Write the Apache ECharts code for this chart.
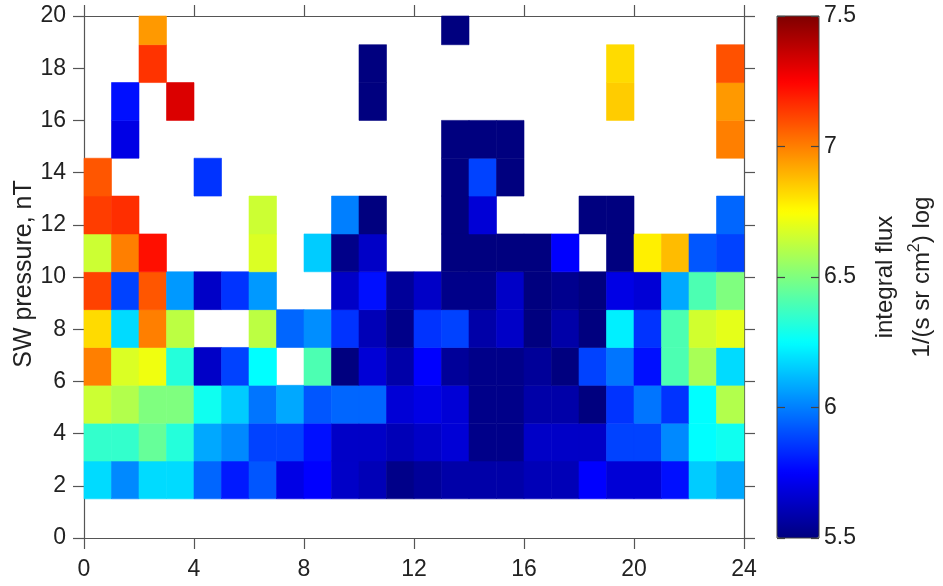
<!DOCTYPE html>
<html>
<head>
<meta charset="utf-8">
<script src="https://cdn.jsdelivr.net/npm/echarts@6/dist/echarts.min.js"></script>
<style>
html,body{margin:0;padding:0;background:#fff;}
#chart{width:943px;height:586px;}
</style>
</head>
<body>
<div id="chart"></div>
<script>
// MLT bins (hours): lower and upper edges
const mltLow  = [0,1,2,3,4,5,6,7,8,9,10,11,12,13,14,15,16,17,18,19,20,21,22,23];
const mltHigh = [1,2,3,4,5,6,7,8,9,10,11,12,13,14,15,16,17,18,19,20,21,22,23,24];
// SW pressure bins (nT): lower and upper edges
const presLow  = [1.5, 2.95, 4.4, 5.85, 7.3, 8.75, 10.2, 11.65, 13.1, 14.55, 16.0, 17.45, 18.9];
const presHigh = [2.95, 4.4, 5.85, 7.3, 8.75, 10.2, 11.65, 13.1, 14.55, 16.0, 17.45, 18.9, 20.35];

// log integral flux per pressure bin (one value per MLT hour), null = no data
const flux00 = [6.18,6.02,6.18,6.18,5.95,5.80,5.92,5.70,5.75,5.64,5.61,5.52,5.55,5.58,5.58,5.58,5.61,5.61,5.75,5.67,5.67,5.78,6.15,6.08];
const flux01 = [6.35,6.35,6.45,6.32,6.08,6.02,5.88,5.88,5.78,5.64,5.64,5.61,5.64,5.67,5.52,5.52,5.64,5.64,5.64,5.88,5.88,6.02,6.25,6.28];
const flux02 = [6.65,6.60,6.50,6.50,6.28,6.15,5.98,6.08,5.92,5.95,5.95,5.67,5.70,5.67,5.52,5.52,5.58,5.58,5.50,5.85,5.98,5.85,6.25,6.60];
const flux03 = [7.00,6.68,6.72,6.32,5.64,5.88,6.25,null,6.40,5.50,5.67,5.58,5.75,5.55,5.52,5.52,5.55,5.50,5.88,5.98,5.78,6.40,6.58,6.18];
const flux04 = [6.82,6.18,7.00,6.62,null,null,6.62,5.95,6.03,5.85,5.61,5.52,5.85,5.88,5.58,5.64,5.50,5.58,5.50,6.22,5.85,6.40,6.66,6.70];
const flux05 = [7.12,5.88,7.08,6.05,5.64,5.85,6.05,null,null,5.64,5.78,5.55,5.64,5.52,5.52,5.64,5.50,5.53,5.50,5.70,5.67,6.08,6.40,6.50];
const flux06 = [6.65,7.00,7.22,null,null,null,6.68,null,6.15,5.52,5.64,null,null,5.50,5.50,5.50,5.50,5.75,null,5.50,6.78,6.88,5.92,5.88];
const flux07 = [7.13,7.16,null,null,null,null,6.65,null,null,6.00,5.50,null,null,5.50,5.67,null,null,null,5.50,5.50,null,null,null,5.95];
const flux08 = [7.08,null,null,null,5.85,null,null,null,null,null,null,null,null,5.50,5.88,5.50,null,null,null,null,null,null,null,null];
const flux09 = [null,5.70,null,null,null,null,null,null,null,null,null,null,null,5.50,5.50,5.50,null,null,null,null,null,null,null,7.00];
const flux10 = [null,5.78,null,7.32,null,null,null,null,null,null,5.50,null,null,null,null,null,null,null,null,6.85,null,null,null,6.95];
const flux11 = [null,null,7.15,null,null,null,null,null,null,null,5.50,null,null,null,null,null,null,null,null,6.82,null,null,null,7.09];
const flux12 = [null,null,6.95,null,null,null,null,null,null,null,null,null,null,5.50,null,null,null,null,null,null,null,null,null,null];
const fluxRows = [flux00,flux01,flux02,flux03,flux04,flux05,flux06,flux07,flux08,flux09,flux10,flux11,flux12];

const cbarTicks = [5.5,6,6.5,7,7.5];

const jet = ['#00007F','#0000FF','#007FFF','#00FFFF','#7FFF7F','#FFFF00','#FF7F00','#FF0000','#7F0000'];

const cells = [];
fluxRows.forEach((row, r) => {
  row.forEach((v, c) => {
    if (v !== null) cells.push([mltLow[c], mltHigh[c], presLow[r], presHigh[r], v]);
  });
});

const FONT = "'Liberation Sans', Arial, sans-serif";
const AX = '#555';
const TX = '#222';

const chart = echarts.init(document.getElementById('chart'), null, {renderer: 'canvas'});

const mainX = {min: 0, max: 24, interval: 4};
const mainY = {min: 0, max: 20, interval: 2};

chart.setOption({
  backgroundColor: '#fff',
  animation: false,
  grid: [
    {left: 84, top: 16, width: 660, height: 522, show: false},
    {left: 777, top: 16, width: 42, height: 522, show: true, z: 10,
     backgroundColor: 'transparent', borderColor: '#444', borderWidth: 1}
  ],
  xAxis: [
    Object.assign({type: 'value', gridIndex: 0, position: 'bottom',
      axisLine: {show: true, onZero: false, lineStyle: {color: AX, width: 1.2}},
      axisTick: {show: true, inside: false, length: 11, lineStyle: {color: AX, width: 1.2}},
      axisLabel: {show: true, fontSize: 23, fontFamily: FONT, color: TX, margin: 20},
      splitLine: {show: false}}, mainX),
    Object.assign({type: 'value', gridIndex: 0, position: 'top',
      axisLine: {show: true, onZero: false, lineStyle: {color: AX, width: 1.2}},
      axisTick: {show: true, inside: false, length: 11, lineStyle: {color: AX, width: 1.2}},
      axisLabel: {show: false}, splitLine: {show: false}}, mainX),
    {type: 'value', gridIndex: 1, min: 0, max: 1, show: false, axisLine: {onZero: false}}
  ],
  yAxis: [
    Object.assign({type: 'value', gridIndex: 0, position: 'left',
      axisLine: {show: true, onZero: false, lineStyle: {color: AX, width: 1.2}},
      axisTick: {show: true, inside: false, length: 11, lineStyle: {color: AX, width: 1.2}},
      axisLabel: {show: true, fontSize: 23, fontFamily: FONT, color: TX, margin: 18},
      splitLine: {show: false}}, mainY),
    Object.assign({type: 'value', gridIndex: 0, position: 'right',
      axisLine: {show: true, onZero: false, lineStyle: {color: AX, width: 1.2}},
      axisTick: {show: true, inside: false, length: 11, lineStyle: {color: AX, width: 1.2}},
      axisLabel: {show: false}, splitLine: {show: false}}, mainY),
    {type: 'value', gridIndex: 1, position: 'right', z: 12,
      min: cbarTicks[0], max: cbarTicks[cbarTicks.length-1], interval: 0.5,
      axisLine: {show: false, onZero: false},
      axisTick: {show: true, inside: true, length: 8, lineStyle: {color: '#444', width: 1.2}},
      axisLabel: {show: true, fontSize: 23, fontFamily: FONT, color: TX, margin: 5},
      splitLine: {show: false}},
    {type: 'value', gridIndex: 1, position: 'left', z: 12,
      min: cbarTicks[0], max: cbarTicks[cbarTicks.length-1], interval: 0.5,
      axisLine: {show: false, onZero: false},
      axisTick: {show: true, inside: true, length: 8, lineStyle: {color: '#444', width: 1.2}},
      axisLabel: {show: false}, splitLine: {show: false}}
  ],
  visualMap: {
    type: 'continuous',
    seriesIndex: 0,
    dimension: 4,
    min: 5.5, max: 7.5,
    calculable: false,
    hoverLink: false,
    realtime: false,
    orient: 'vertical',
    left: 777, top: 16,
    padding: 0,
    z: 4,
    itemWidth: 42, itemHeight: 522,
    text: null,
    showLabel: false,
    inRange: {color: jet},
    outOfRange: {color: '#fff'}
  },
  series: [{
    type: 'custom',
    xAxisIndex: 0, yAxisIndex: 0,
    coordinateSystem: 'cartesian2d',
    encode: {x: [0, 1], y: [2, 3]},
    data: cells,
    renderItem: function (params, api) {
      const p0 = api.coord([api.value(0), api.value(3)]);
      const p1 = api.coord([api.value(1), api.value(2)]);
      const cs = params.coordSys;
      const rect = echarts.graphic.clipRectByRect(
        {x: p0[0], y: p0[1], width: p1[0] - p0[0], height: p1[1] - p0[1]},
        {x: cs.x, y: cs.y, width: cs.width, height: cs.height});
      if (!rect) return;
      const col = api.visual('color');
      return {type: 'rect', shape: rect, style: {fill: col, stroke: col, lineWidth: 0.6}};
    }
  }],
  graphic: [
    {type: 'text', x: 24, y: 274, rotation: Math.PI / 2,
      style: {text: 'SW pressure, nT', font: "25px " + FONT, fill: TX, align: 'center', verticalAlign: 'middle'}},
    {type: 'text', x: 885, y: 277, rotation: Math.PI / 2,
      style: {text: 'integral flux', font: "24px " + FONT, fill: TX, align: 'center', verticalAlign: 'middle'}},
    {type: 'text', x: 922, y: 277, rotation: Math.PI / 2,
      style: {text: '1/(s sr cm{sup|2}) log', font: "24px " + FONT, fill: TX, align: 'center', verticalAlign: 'middle',
        rich: {sup: {fontSize: 16, fontFamily: FONT, fill: TX, verticalAlign: 'top', padding: [0, 0, 14, 0]}}}}
  ]
});
</script>
</body>
</html>
